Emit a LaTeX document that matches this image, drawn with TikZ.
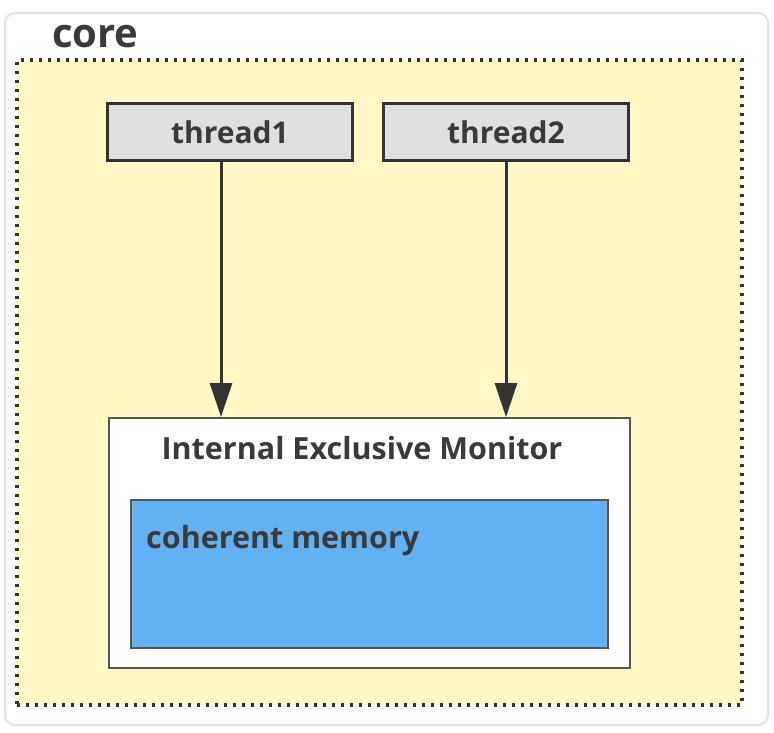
\documentclass[tikz,border=0pt]{standalone}
\usepackage{fontspec}
\setsansfont{Open Sans}
\usepackage{xcolor}
\definecolor{cLine}{HTML}{333333}
\definecolor{cText}{HTML}{3A3A3A}
\definecolor{cCore}{HTML}{FFF8C4}
\definecolor{cThread}{HTML}{E0E0E0}
\definecolor{cMem}{HTML}{62B2F3}
\definecolor{cFrame}{HTML}{E4E4E4}
\definecolor{cBorder}{HTML}{555555}
\usepackage{tikz}
\usetikzlibrary{positioning,arrows.meta}
\tikzset{
  node-frame/.style={draw=cFrame,line width=2pt,rounded corners=10pt,fill=white,
    minimum width=763pt,minimum height=712pt},
  node-core/.style={draw=cLine,line width=3.4pt,dash pattern=on 3.4pt off 5.6pt,
    fill=cCore,minimum width=725pt,minimum height=645pt},
  node-thread/.style={draw=cLine,line width=3pt,fill=cThread,
    minimum width=245pt,minimum height=57pt,font=\sffamily\bfseries\fontsize{30}{33}\selectfont,text=cText},
  node-monitor/.style={draw=cBorder,line width=2pt,fill=white,
    minimum width=521pt,minimum height=250pt},
  node-mem/.style={draw=cBorder,line width=2pt,fill=cMem,
    minimum width=477pt,minimum height=148pt},
  label-text/.style={font=\sffamily\bfseries\fontsize{30.5}{34}\selectfont,text=cText,inner sep=0pt},
  arrow/.style={-{Triangle[length=34pt,width=22pt]},line width=3pt,draw=cLine},
}
\begin{document}
\begin{tikzpicture}[x=1pt,y=-1pt]
  \useasboundingbox (0,0) rectangle (774,733);
  \node[node-frame] (frame) at (386.5,369) {};
  \node[node-core] (core) at (379.5,382.5) {};
  \node[label-text,font=\sffamily\bfseries\fontsize{40}{44}\selectfont,anchor=base west]
    (core-title) at (52,48) {core};
  \node[node-thread] (t1) at (230,132) {thread1};
  \node[node-thread] (t2) at (506,132) {thread2};
  \node[node-monitor] (mon) at (369.5,543) {};
  \node[label-text] (mon-title) at (362,448) {Internal Exclusive Monitor};
  \node[node-mem] (mem) at (369.5,574) {};
  \node[label-text,anchor=west] (mem-title) at (146,541) {coherent memory};
  % arrows thread -> monitor
  \draw[arrow] ([xshift=-9pt]t1.south) -- ([xshift=-9pt]t1.south |- mon.north);
  \draw[arrow] (t2.south) -- (t2.south |- mon.north);
\end{tikzpicture}
\end{document}
